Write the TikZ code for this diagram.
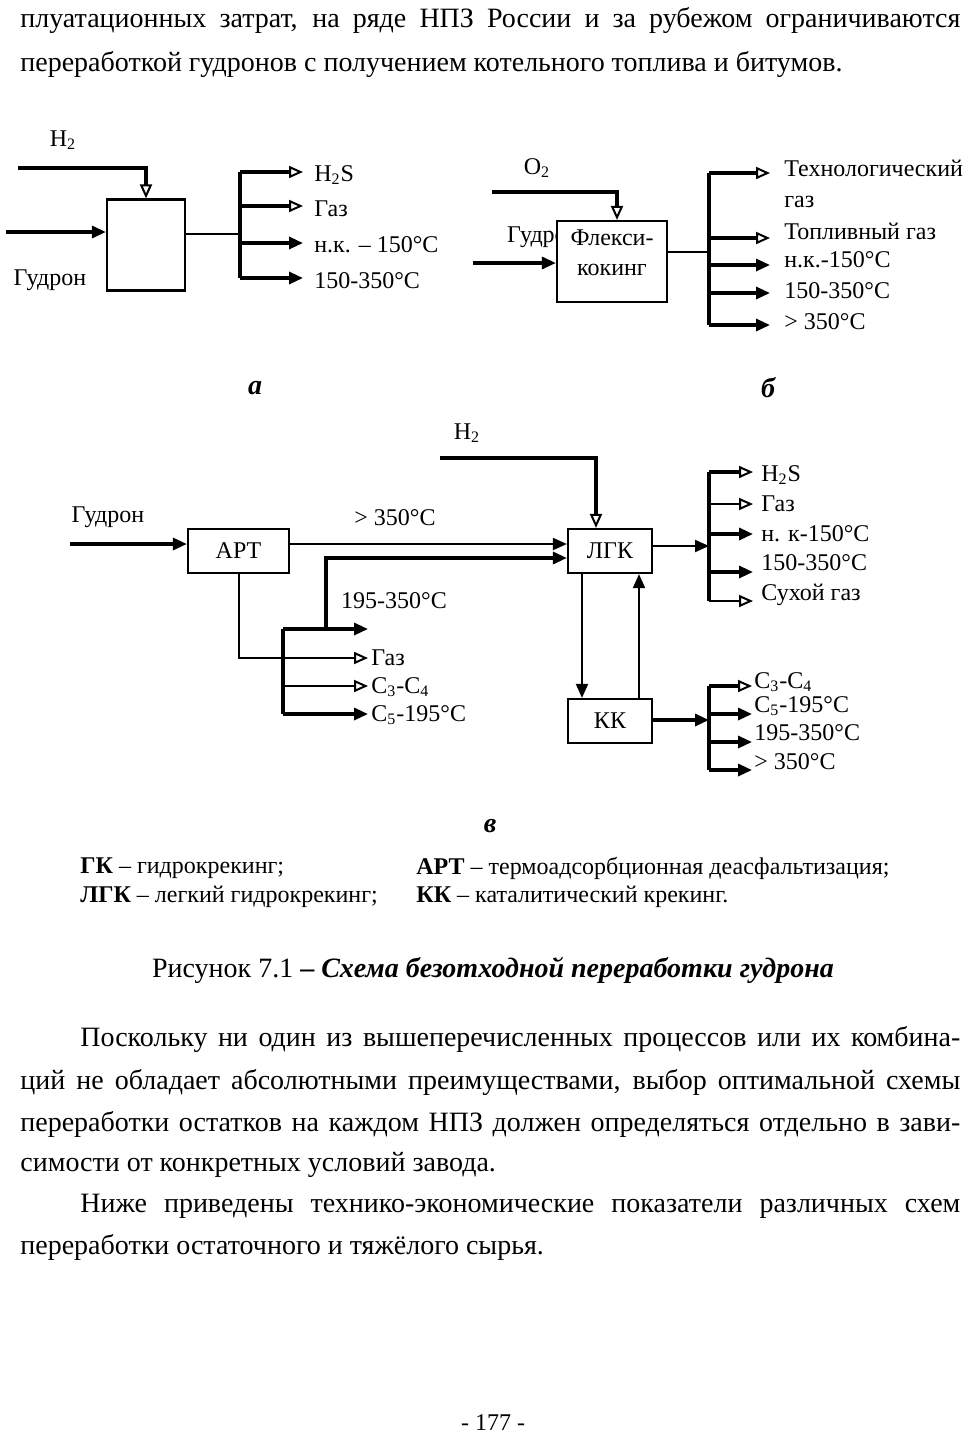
\documentclass[tikz,border=0pt]{standalone}
\usepackage{fontspec}
\setmainfont{Liberation Serif}
\usetikzlibrary{arrows.meta,positioning}
\newcommand{\jline}[2]{\makebox[#1][s]{#2}}
\tikzset{
  unit/.style={draw,line width=1.1pt,fill=white,inner sep=0pt},
  pipe/.style={line width=1.6pt},
  duct/.style={line width=1pt},
  fa/.style={-{Triangle[length=7pt,width=6pt]}},
  oa/.style={-{Triangle[open,length=7pt,width=6pt,line width=1pt]}},
  lbl/.style={anchor=west,inner ysep=0pt,inner xsep=#1},
  lbl/.default=2pt,
  body/.style={anchor=base west,inner sep=0pt,font=\fontsize{14}{16}\selectfont},
  tag/.style={font=\fontsize{14}{16}\selectfont\bfseries\itshape},
}
\begin{document}
\begin{tikzpicture}[x=0.5pt,y=-0.5pt,font=\fontsize{12}{14}\selectfont]
\useasboundingbox (0,0) rectangle (969,1441);
\node[body] (p1) at (20,27) {\jline{470pt}{плуатационных затрат, на ряде НПЗ России и за рубежом ограничиваются}};
\node[body] (p2) at (20,71) {переработкой гудронов с получением котельного топлива и битумов.};

% a
\node[unit,minimum width=39pt,minimum height=45.5pt] (hc) at (146,245) {};
\node (h2a) at (63,140) {H\textsubscript{2}};
\node (gudra) at (50,280) {Гудрон};
\coordinate (h2a-in) at (18,168);
\coordinate (gudra-in) at (6,232);
\coordinate (busa) at (240,234);
\coordinate (a1) at (240,172);
\coordinate (a2) at (240,206);
\coordinate (a3) at (240,243);
\coordinate (a4) at (240,278);
\node[lbl=5.5pt] (a1l) at (303,175) {H\textsubscript{2}S};
\node[lbl=5.5pt] (a2l) at (303,209) {Газ};
\node[lbl=5.5pt] (a3l) at (303,245) {н.к. – 150°C};
\node[lbl=5.5pt] (a4l) at (303,281) {150-350°C};
\draw[pipe,oa] (h2a-in) -| (hc.north);
\draw[pipe,fa] (gudra-in) -- (gudra-in -| hc.west);
\draw[duct] (hc.east |- busa) -- (busa);
\draw[pipe] (a1) -- (a4);
\draw[pipe,oa] (a1) -- (a1 -| a1l.west);
\draw[pipe,oa] (a2) -- (a2 -| a2l.west);
\draw[pipe,fa] (a3) -- (a3 -| a3l.west);
\draw[pipe,fa] (a4) -- (a4 -| a4l.west);

% b
\node (o2b) at (537,168) {O\textsubscript{2}};
\node[anchor=west] (gudrb) at (500,237) {Гудрон};
\node[unit,minimum width=55pt,minimum height=40.5pt] (flex) at (612,261.5) {};
\node[align=center,font=\fontsize{12}{15}\selectfont] (flext) at (612,253) {Флекси-\\кокинг};
\coordinate (o2b-in) at (492,192);
\coordinate (gudrb-in) at (473,263);
\coordinate (busb) at (709,252);
\coordinate (b1) at (709,173);
\coordinate (b2) at (709,238);
\coordinate (b3) at (709,265);
\coordinate (b4) at (709,293);
\coordinate (b5) at (709,325);
\node[lbl=7pt,align=left,font=\fontsize{12}{15.5}\selectfont] (b1l) at (770,184) {Технологический\\газ};
\node[lbl=7pt] (b2l) at (770,231) {Топливный газ};
\node[lbl=7pt] (b3l) at (770,260) {н.к.-150°C};
\node[lbl=7pt] (b4l) at (770,291) {150-350°C};
\node[lbl=7pt] (b5l) at (770,322) {> 350°C};
\draw[pipe,oa] (o2b-in) -| ([xshift=2.5pt]flex.north);
\draw[pipe,fa] (gudrb-in) -- (gudrb-in -| flex.west);
\draw[duct] (flex.east |- busb) -- (busb);
\draw[pipe] (b1) -- (b5);
\draw[pipe,oa] (b1) -- (b1 -| b1l.west);
\draw[pipe,oa] (b2) -- (b2 -| b2l.west);
\draw[pipe,fa] (b3) -- (b3 -| b3l.west);
\draw[pipe,fa] (b4) -- (b4 -| b4l.west);
\draw[pipe,fa] (b5) -- (b5 -| b5l.west);

\node[tag] (taga) at (255,388) {а};
\node[tag] (tagb) at (768,388) {б};

% c
\node[unit,minimum width=50.5pt,minimum height=22pt] (art) at (238.5,551) {АРТ};
\node[unit,minimum width=42pt,minimum height=22pt] (lgk) at (610,551) {ЛГК};
\node[unit,minimum width=42pt,minimum height=22pt] (kk) at (610,721) {КК};
\node (gudrc) at (108,517) {Гудрон};
\node (h2c) at (467,433) {H\textsubscript{2}};
\node (resid) at (395,518) {> 350°C};
\node (dist) at (394,601) {195-350°C};
\coordinate (gudrc-in) at (70,544);
\coordinate (h2c-in) at (440,458);
\coordinate (c0) at (283,629);
\coordinate (c2) at (283,686);
\coordinate (c3) at (283,714);
\coordinate (j195) at (326,629);
\coordinate (t195) at (368,629);
\node[lbl=1.5pt] (gasc) at (368,658) {Газ};
\node[lbl=1.5pt] (c34) at (368,687) {C\textsubscript{3}-C\textsubscript{4}};
\node[lbl=1.5pt] (c5) at (368,715) {C\textsubscript{5}-195°C};
\draw[pipe,fa] (gudrc-in) -- (gudrc-in -| art.west);
\draw[duct,fa] (art.east |- gudrc-in) -- (gudrc-in -| lgk.west);
\draw[pipe,oa] (h2c-in) -| ([xshift=-7pt]lgk.north);
\draw[pipe,fa] (j195) |- ([yshift=-3.5pt]lgk.west);
\draw[pipe] (c0) -- (c3);
\draw[pipe,fa] (c0) -- (t195);
\draw[duct,oa] (art.south) |- (gasc.west);
\draw[duct,oa] (c2) -- (c2 -| c34.west);
\draw[pipe,fa] (c3) -- (c3 -| c5.west);

\coordinate (d0) at (709,546);
\coordinate (d1) at (709,472);
\coordinate (d2) at (709,504);
\coordinate (d3) at (709,534);
\coordinate (d4) at (709,572);
\coordinate (d5) at (709,601);
\node[lbl=4pt] (d1l) at (753,475) {H\textsubscript{2}S};
\node[lbl=4pt] (d2l) at (753,504) {Газ};
\node[lbl=4pt] (d3l) at (753,534) {н. к-150°C};
\node[lbl=4pt] (d4l) at (753,563) {150-350°C};
\node[lbl=4pt] (d5l) at (753,595) {Сухой газ};
\draw[duct,fa] (lgk.east |- d0) -- (d0);
\draw[pipe] (d1) -- (d5);
\draw[pipe,oa] (d1) -- (d1 -| d1l.west);
\draw[duct,oa] (d2) -- (d2 -| d2l.west);
\draw[pipe,fa] (d3) -- (d3 -| d3l.west);
\draw[pipe,fa] (d4) -- (d4 -| d4l.west);
\draw[duct,oa] (d5) -- (d5 -| d5l.west);
\draw[duct,fa] ([xshift=-14pt]lgk.south) -- ([xshift=-14pt]kk.north);
\draw[duct,fa] ([xshift=14.5pt]kk.north) -- ([xshift=14.5pt]lgk.south);

\coordinate (e0) at (709,720);
\coordinate (e1) at (709,686);
\coordinate (e2) at (709,714);
\coordinate (e3) at (709,742);
\coordinate (e4) at (709,770);
\node[lbl=1pt] (e1l) at (752,682) {C\textsubscript{3}-C\textsubscript{4}};
\node[lbl=1pt] (e2l) at (752,706) {C\textsubscript{5}-195°C};
\node[lbl=1pt] (e3l) at (752,733) {195-350°C};
\node[lbl=1pt] (e4l) at (752,762) {> 350°C};
\draw[pipe,fa] (kk.east |- e0) -- (e0);
\draw[pipe] (e1) -- (e4);
\draw[pipe,oa] (e1) -- (e1 -| e1l.west);
\draw[pipe,fa] (e2) -- (e2 -| e2l.west);
\draw[pipe,fa] (e3) -- (e3 -| e3l.west);
\draw[pipe,fa] (e4) -- (e4 -| e4l.west);

\node[tag] (tagc) at (490,826) {в};
\node[anchor=west,inner sep=0pt] (lg1) at (80,868) {\textbf{ГК} – гидрокрекинг;};
\node[anchor=west,inner sep=0pt] (lg2) at (80,897) {\textbf{ЛГК} – легкий гидрокрекинг;};
\node[anchor=west,inner sep=0pt] (lg3) at (416,868) {\textbf{АРТ} – термоадсорбционная деасфальтизация;};
\node[anchor=west,inner sep=0pt] (lg4) at (416,897) {\textbf{КК} – каталитический крекинг.};
\node[font=\fontsize{14}{16}\selectfont] (cap) at (493,970) {Рисунок 7.1 \textbf{– \textit{Схема безотходной переработки гудрона}}};

\node[body] (q1) at (80,1046) {\jline{440pt}{Поскольку ни один из вышеперечисленных процессов или их комбина-}};
\node[body] (q2) at (20,1089) {\jline{470pt}{ций не обладает абсолютными преимуществами, выбор оптимальной схемы}};
\node[body] (q3) at (20,1131) {\jline{470pt}{переработки остатков на каждом НПЗ должен определяться отдельно в зави-}};
\node[body] (q4) at (20,1171) {симости от конкретных условий завода.};
\node[body] (q5) at (80,1212) {\jline{440pt}{Ниже приведены технико-экономические показатели различных схем}};
\node[body] (q6) at (20,1254) {переработки остаточного и тяжёлого сырья.};
\node (pg) at (493,1423) {- 177 -};
\end{tikzpicture}
\end{document}
